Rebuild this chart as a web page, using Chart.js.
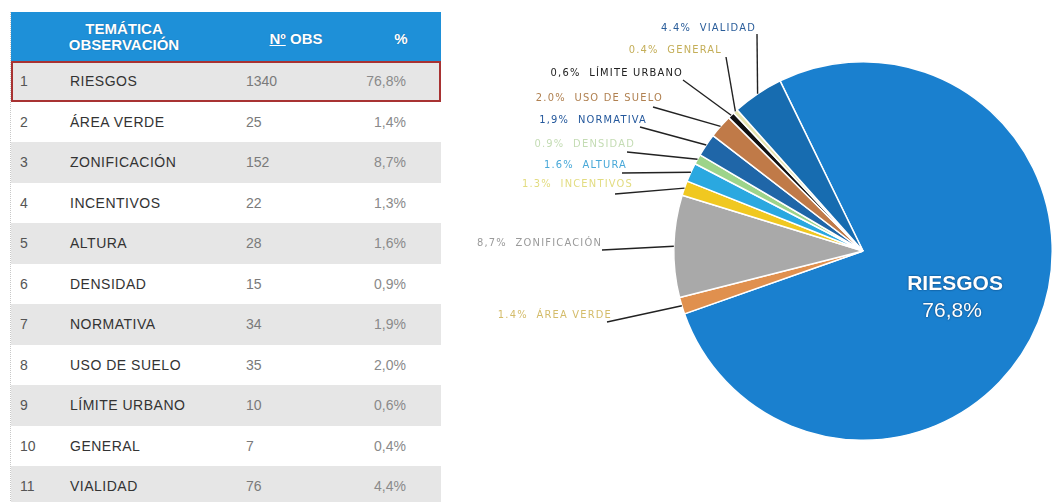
<!DOCTYPE html>
<html lang="es">
<head>
<meta charset="utf-8">
<title>Observaciones por temática</title>
<script src="https://cdn.jsdelivr.net/npm/chart.js@4"></script>
<style>
  body {
    margin: 0;
    width: 1054px;
    height: 502px;
    background: #ffffff;
    position: relative;
    overflow: hidden;
    font-family: "Liberation Sans", Arial, sans-serif;
  }
  #obs-table {
    position: absolute;
    left: 10px;
    top: 12px;
    width: 430px;
    border-left: 1px dotted #c8c8c8;
  }
  .head {
    height: 49px;
    background: #1e90d8;
    color: #ffffff;
    font-weight: bold;
    font-size: 15px;
    position: relative;
    text-shadow: 0 0 1px rgba(0, 40, 90, 0.5);
  }
  .head div {
    position: absolute;
    text-align: center;
    line-height: 16px;
  }
  .row {
    height: 40.5px;
    position: relative;
    font-size: 14px;
    line-height: 40px;
    box-sizing: border-box;
  }
  .row.shade {
    background: #e6e6e6;
  }
  .row.marked {
    border: 2px solid #a83232;
  }
  .row span {
    position: absolute;
    top: 0;
  }
  .num { left: 9px; color: #555555; }
  .name { left: 59px; color: #333333; letter-spacing: 0.5px; }
  .obs { left: 235px; color: #7a7a7a; }
  .pct { right: 35px; color: #8a8a8a; }
  .row.marked span { top: -2px; }
  .row.marked .num { left: 7px; }
  .row.marked .name { left: 57px; }
  .row.marked .obs { left: 233px; }
  .row.marked .pct { right: 33px; }
  #pie-chart {
    position: absolute;
    left: 460px;
    top: 0;
  }
</style>
</head>
<body>
<div id="obs-table">
  <div class="head">
    <div style="left: 38px; width: 150px; top: 9px;">TEMÁTICA<br>OBSERVACIÓN</div>
    <div style="left: 250px; width: 70px; top: 19px;"><u>Nº</u> OBS</div>
    <div style="left: 375px; width: 30px; top: 19px;">%</div>
  </div>
  <div id="table-body"></div>
</div>
<canvas id="pie-chart" width="594" height="502"></canvas>

<script>
"use strict";
(function () {
  // Topics and how many observations each got
  const TOPICS = ["RIESGOS", "ÁREA VERDE", "ZONIFICACIÓN", "INCENTIVOS", "ALTURA",
    "DENSIDAD", "NORMATIVA", "USO DE SUELO", "LÍMITE URBANO", "GENERAL", "VIALIDAD"];
  const COUNTS = [1340, 25, 152, 22, 28, 15, 34, 35, 10, 7, 76];
  const PERCENTS = ["76,8%", "1,4%", "8,7%", "1,3%", "1,6%", "0,9%", "1,9%", "2,0%",
    "0,6%", "0,4%", "4,4%"];
  // Outside tags of the pie (RIESGOS goes inside its slice)
  const PIE_TAGS = [null, "1.4%  ÁREA VERDE", "8,7%  ZONIFICACIÓN", "1.3%  INCENTIVOS",
    "1.6%  ALTURA", "0.9%  DENSIDAD", "1,9%  NORMATIVA", "2.0%  USO DE SUELO",
    "0,6%  LÍMITE URBANO", "0.4%  GENERAL", "4.4%  VIALIDAD"];

  const SLICE_COLORS = ["#1a80cf", "#e0904e", "#a9a9a9", "#f0c820", "#2aa8e0", "#9dd48a",
    "#1f66a8", "#c07a48", "#111111", "#e6e4b0", "#176cb0"];
  const TAG_COLORS = [null, "#d4bc6a", "#9a9a9a", "#e2dc80", "#48a8d8", "#c4dcb4",
    "#24589c", "#b08050", "#222222", "#c4ae58", "#2a5d9a"];
  // Tag placement in canvas px: [text right, text middle, line start x, line start y]
  const TAG_SPOTS = [null, [152, 315, 147, 322], [142, 243, 142, 250],
    [173, 184, 155, 194], [167, 165, 162, 173], [175, 144, 167, 152],
    [187, 120, 180, 127], [203, 98, 193, 107], [223, 73, 223, 80],
    [262, 50, 266, 57], [296, 28, 297, 34]];

  window.addEventListener("load", init);

  function init() {
    fillTable();
    drawPie();
  }

  function fillTable() {
    let body = id("table-body");
    for (let i = 0; i < TOPICS.length; i++) {
      let row = gen("div");
      row.className = "row";
      if (i % 2 === 0) {
        row.classList.add("shade");
      }
      if (i === 0) {
        row.classList.add("marked");
      }
      addCell(row, "num", i + 1);
      addCell(row, "name", TOPICS[i]);
      addCell(row, "obs", COUNTS[i]);
      addCell(row, "pct", PERCENTS[i]);
      body.appendChild(row);
    }
  }

  function addCell(row, cls, text) {
    let span = gen("span");
    span.className = cls;
    span.textContent = text;
    row.appendChild(span);
  }

  // draws the tags with their leader lines and the big label in RIESGOS
  const tagPlugin = {
    id: "pieTags",
    afterDatasetsDraw(chart) {
      let ctx = chart.ctx;
      let arcs = chart.getDatasetMeta(0).data;
      ctx.save();
      for (let i = 1; i < arcs.length; i++) {
        let arc = arcs[i];
        let mid = (arc.startAngle + arc.endAngle) / 2;
        let ex = arc.x + Math.cos(mid) * arc.outerRadius;
        let ey = arc.y + Math.sin(mid) * arc.outerRadius;
        let spot = TAG_SPOTS[i];

        ctx.strokeStyle = "#222222";
        ctx.lineWidth = 1.4;
        ctx.beginPath();
        ctx.moveTo(spot[2], spot[3]);
        ctx.lineTo(ex, ey);
        ctx.stroke();

        ctx.font = "11px 'Liberation Sans Narrow', 'DejaVu Sans Condensed', sans-serif";
        ctx.letterSpacing = "1.2px";
        ctx.fillStyle = TAG_COLORS[i];
        ctx.textAlign = "right";
        ctx.textBaseline = "middle";
        ctx.fillText(PIE_TAGS[i], spot[0], spot[1]);
      }

      let main = arcs[0];
      let mid = (main.startAngle + main.endAngle) / 2;
      let cx = main.x + Math.cos(mid) * main.outerRadius * 0.52;
      let cy = main.y + Math.sin(mid) * main.outerRadius * 0.52;
      ctx.letterSpacing = "0px";
      ctx.textAlign = "center";
      ctx.textBaseline = "middle";
      ctx.fillStyle = "#ffffff";
      ctx.shadowColor = "rgba(0, 30, 70, 0.8)";
      ctx.shadowBlur = 2;
      ctx.font = "bold 21px 'Liberation Sans', Arial, sans-serif";
      ctx.fillText(TOPICS[0], cx + 1, cy - 4);
      ctx.font = "21px 'Liberation Sans', Arial, sans-serif";
      ctx.fillText(PERCENTS[0], cx - 2, cy + 23);
      ctx.restore();
    }
  };

  function drawPie() {
    new Chart(id("pie-chart"), {
      type: "pie",
      data: {
        labels: TOPICS,
        datasets: [{
          data: COUNTS,
          backgroundColor: SLICE_COLORS,
          borderColor: "#ffffff",
          borderWidth: 1.5
        }]
      },
      options: {
        responsive: false,
        animation: false,
        rotation: -26,
        layout: {
          padding: {left: 213, right: 1, top: 59, bottom: 59}
        },
        plugins: {
          legend: {display: false},
          tooltip: {enabled: false}
        }
      },
      plugins: [tagPlugin]
    });
  }

  /**
   * Returns the element that has the ID attribute with the specified value.
   * @param {string} id - element ID.
   * @returns {object} - DOM object associated with id.
   */
  function id(id) {
    return document.getElementById(id);
  }

  /**
   * Returns a element with the given tagname.
   * @param {string} tagname - HTML element tagname
   * @returns {HTMLElement} a HTML element that hasn't bind with DOM yet.
   */
  function gen(tagname) {
    return document.createElement(tagname);
  }
})();
</script>
</body>
</html>
